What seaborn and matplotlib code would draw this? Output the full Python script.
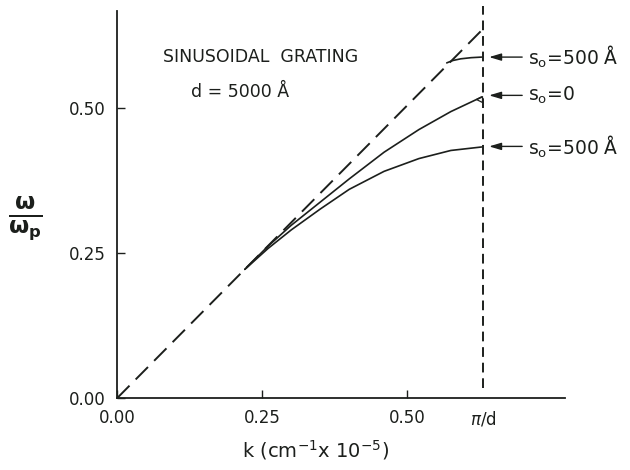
import matplotlib
matplotlib.use("Agg")
import matplotlib.pyplot as plt
import seaborn as sns
import pandas as pd

sns.set_theme(style="ticks")
plt.rcParams['font.family'] = ['DejaVu Sans']
plt.rcParams['mathtext.fontset'] = 'dejavusans'

# ---- data ----
k_light = [0.0, 0.628]
w_light = [0.0, 0.634]

k_upper = [0.568, 0.578, 0.592, 0.610, 0.628]
w_upper = [0.578, 0.582, 0.585, 0.587, 0.588]

k_mid = [0.22, 0.26, 0.30, 0.35, 0.40, 0.46, 0.52, 0.575, 0.628]
w_mid = [0.222, 0.262, 0.298, 0.338, 0.378, 0.424, 0.463, 0.494, 0.519]

k_low = [0.22, 0.26, 0.30, 0.35, 0.40, 0.46, 0.52, 0.575, 0.628]
w_low = [0.222, 0.258, 0.290, 0.326, 0.360, 0.391, 0.413, 0.427, 0.433]

pi_over_d = 0.631
x_ticks = [0.0, 0.25, 0.50, pi_over_d]
x_tick_labels = ["0.00", "0.25", "0.50", r"$\pi$/d"]
y_ticks = [0.0, 0.25, 0.50]
y_tick_labels = ["0.00", "0.25", "0.50"]

label_y = [0.588, 0.522, 0.434]
label_texts = [r"s$_\mathregular{o}$=500 Å", r"s$_\mathregular{o}$=0", r"s$_\mathregular{o}$=500 Å"]

ink = "#1c1f1c"

fig = plt.figure(figsize=(6.3, 4.7), dpi=100)
ax = fig.add_axes([0.186, 0.153, 0.711, 0.823])

# light line (dashed)
sns.lineplot(x=k_light, y=w_light, ax=ax, color=ink, lw=1.4,
             linestyle=(0, (9, 4.5)), estimator=None, sort=False)
# curves
for kk, ww in [(k_upper, w_upper), (k_mid, w_mid), (k_low, w_low)]:
    df = pd.DataFrame({"k": kk, "w": ww})
    sns.lineplot(data=df, x="k", y="w", ax=ax, color=ink, lw=1.2,
                 estimator=None, sort=False)

# small triangle near end of s0=0 curve
ax.plot([0.623], [0.516], marker="<", ms=5, mfc="none", mec=ink, mew=0.9)

# vertical dashed line at pi/d
ax.plot([pi_over_d, pi_over_d], [0.017, 0.676], color=ink, lw=1.4,
        linestyle=(0, (5, 3)), clip_on=False)

# arrows and labels
for yv, txt in zip(label_y, label_texts):
    ax.annotate("", xy=(0.641, yv), xytext=(0.698, yv),
                arrowprops=dict(arrowstyle="-|>,head_length=0.6,head_width=0.18",
                                color=ink, lw=1.0, shrinkA=0, shrinkB=0),
                annotation_clip=False)
    ax.text(0.708, yv, txt, fontsize=13.5, color=ink, va="center", ha="left",
            clip_on=False)

ax.text(0.247, 0.588, "SINUSOIDAL  GRATING", fontsize=12.5, color=ink,
        ha="center", va="center")
ax.text(0.212, 0.528, "d = 5000 Å", fontsize=12.5, color=ink,
        ha="center", va="center")

ax.set_xlim(0, 0.772)
ax.set_ylim(0, 0.667)
ax.set_xticks(x_ticks)
ax.set_xticklabels(x_tick_labels)
ax.set_yticks(y_ticks)
ax.set_yticklabels(y_tick_labels)
ax.tick_params(direction="in", length=6, width=1.0, colors=ink, labelsize=12, pad=8)
ax.xaxis.get_major_ticks()[3].tick1line.set_visible(False)

for s in ["top", "right"]:
    ax.spines[s].set_visible(False)
for s in ["left", "bottom"]:
    ax.spines[s].set_color(ink)
    ax.spines[s].set_linewidth(1.3)

ax.set_xlabel("")
ax.set_ylabel("")
ax.text(0.442, -0.135, r"k (cm$^{-1}$x 10$^{-5}$)", transform=ax.transAxes,
        fontsize=14, color=ink, ha="center", va="center")
ax.text(-0.205, 0.465, r"$\mathbf{\frac{\omega}{\omega_p}}$", transform=ax.transAxes,
        fontsize=24, color=ink, ha="center", va="center")

fig.savefig("out.png", dpi=100)
